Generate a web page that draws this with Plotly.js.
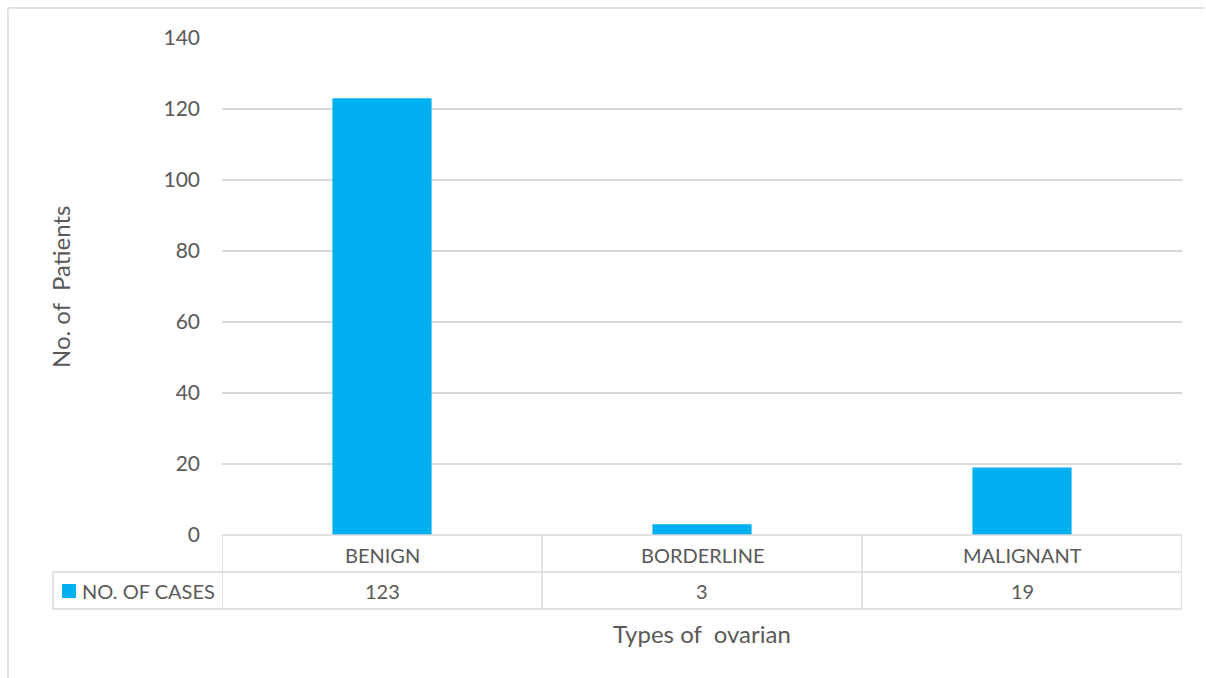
<!DOCTYPE html>
<html>
<head>
<meta charset="utf-8">
<script src="https://cdn.plot.ly/plotly-3.0.1.min.js"></script>
<style>html,body{margin:0;padding:0;background:#fff;}#chart{width:1206px;height:678px;}</style>
</head>
<body>
<div id="chart"></div>
<script>
const categories = ["BENIGN", "BORDERLINE", "MALIGNANT"];
const seriesName = "NO. OF CASES";
const cases = [123, 3, 19];
const yTicks = [0, 20, 40, 60, 80, 100, 120, 140];

const W = 1206, H = 678;
const L = 222, R = 1182, T = 38, B = 535;
const ph = B - T, pw = R - L;
const py = p => (B - p) / ph;          // pixel y -> paper y
const pxp = p => (p - L) / pw;         // pixel x -> paper x
const grey = "#d9d9d9";
const txt = "#595959";
const font = "Lato, 'Open Sans', sans-serif";

const row1Top = 535, row1Bot = 572, row2Bot = 609, legLeft = 53;
const n = categories.length;

const shapes = [];
// outer chart frame
shapes.push({type:"line", xref:"paper", yref:"paper", x0:pxp(8), x1:pxp(W - 1), y0:py(8), y1:py(8), line:{color:grey,width:1.5}});
shapes.push({type:"line", xref:"paper", yref:"paper", x0:pxp(8), x1:pxp(8), y0:py(8), y1:py(H), line:{color:grey,width:1.5}});
// table horizontal lines
shapes.push({type:"line", xref:"paper", yref:"paper", x0:0, x1:1, y0:py(row1Top), y1:py(row1Top), line:{color:grey,width:1.5}});
shapes.push({type:"line", xref:"paper", yref:"paper", x0:pxp(legLeft), x1:1, y0:py(row1Bot), y1:py(row1Bot), line:{color:grey,width:1.5}});
shapes.push({type:"line", xref:"paper", yref:"paper", x0:pxp(legLeft), x1:1, y0:py(row2Bot), y1:py(row2Bot), line:{color:grey,width:1.5}});
// vertical lines at category boundaries
for (let i = 0; i <= n; i++) {
  shapes.push({type:"line", xref:"x", yref:"paper", x0:i-0.5, x1:i-0.5, y0:py(row1Top), y1:py(row2Bot), line:{color:grey,width:1.5}});
}
shapes.push({type:"line", xref:"paper", yref:"paper", x0:pxp(legLeft), x1:pxp(legLeft), y0:py(row1Bot), y1:py(row2Bot), line:{color:grey,width:1.5}});
// legend key square
shapes.push({type:"rect", xref:"paper", yref:"paper", x0:pxp(62), x1:pxp(76), y0:py(598), y1:py(584), fillcolor:"#00B0F0", line:{width:0}});

const annotations = [];
categories.forEach((c, i) => {
  annotations.push({xref:"x", yref:"paper", x:i, y:py(555), text:c, showarrow:false, xanchor:"center", yanchor:"middle", font:{family:font, size:20, color:txt}});
  annotations.push({xref:"x", yref:"paper", x:i, y:py(591), text:String(cases[i]), showarrow:false, xanchor:"center", yanchor:"middle", font:{family:font, size:20, color:txt}});
});
annotations.push({xref:"paper", yref:"paper", x:pxp(80), y:py(591), text:seriesName, showarrow:false, xanchor:"left", yanchor:"middle", font:{family:font, size:20, color:txt}});
annotations.push({xref:"paper", yref:"paper", x:pxp(702), y:py(633), text:"Types of  ovarian", showarrow:false, xanchor:"center", yanchor:"middle", font:{family:font, size:24, color:txt}});
annotations.push({xref:"paper", yref:"paper", x:pxp(60), y:py(287), text:"No. of  Patients", textangle:-90, showarrow:false, xanchor:"center", yanchor:"middle", font:{family:font, size:24, color:txt}});

const data = [{
  type: "bar",
  x: categories,
  y: cases,
  name: seriesName,
  marker: {color: "#00B0F0"},
  width: 0.31,
  hoverinfo: "x+y"
}];

const layout = {
  width: W, height: H,
  margin: {l: L, r: W - R, t: T, b: H - B, pad: 0},
  paper_bgcolor: "#fff",
  plot_bgcolor: "#fff",
  showlegend: false,
  xaxis: {
    type: "category",
    range: [-0.5, n - 0.5],
    showticklabels: false,
    showgrid: false,
    zeroline: false,
    showline: false,
    ticks: ""
  },
  yaxis: {
    range: [0, 140],
    tickvals: yTicks,
    ticktext: yTicks.map(String),
    showgrid: true,
    gridcolor: grey,
    gridwidth: 1.5,
    zeroline: false,
    showline: false,
    ticks: "",
    ticklabelstandoff: 21,
    tickfont: {family: font, size: 21, color: txt}
  },
  shapes: shapes,
  annotations: annotations
};

Plotly.newPlot("chart", data, layout, {displayModeBar: false, staticPlot: true});
</script>
</body>
</html>
